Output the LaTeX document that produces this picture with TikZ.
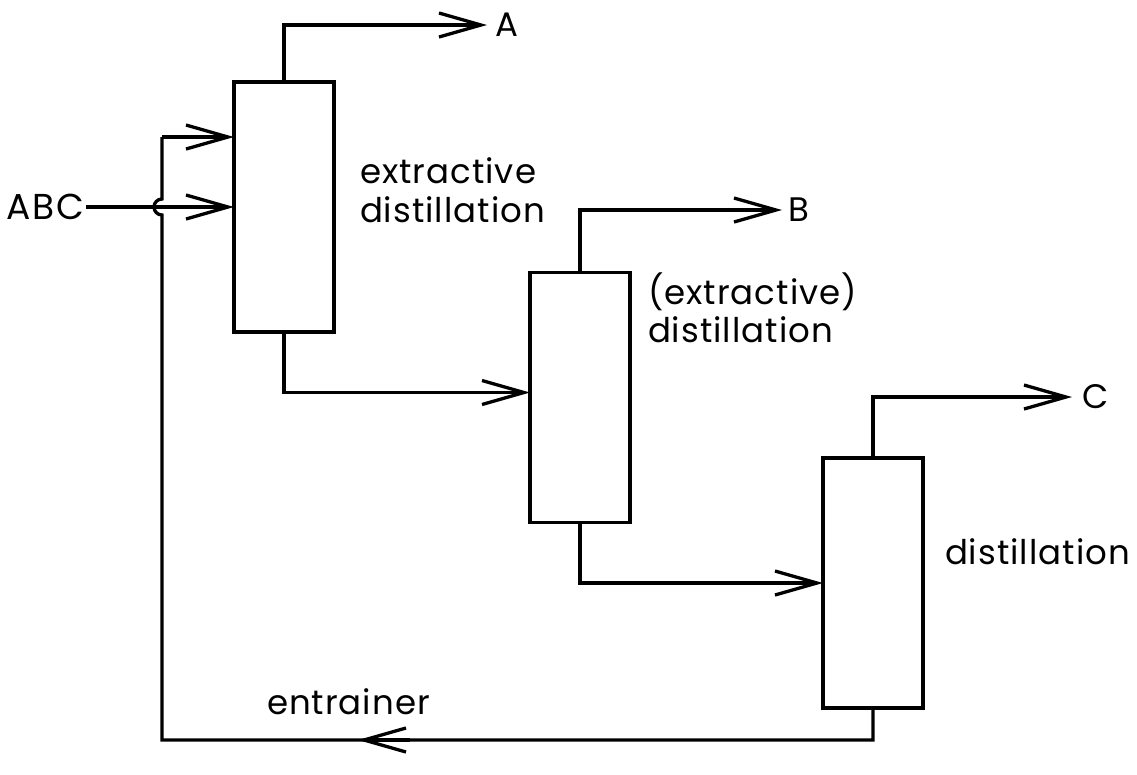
\documentclass[tikz,border=0pt]{standalone}
\usepackage{fontspec}
\setmainfont{Poppins}[LetterSpace=3]
\usetikzlibrary{arrows.meta,calc}
\begin{document}
\begin{tikzpicture}[x=1pt,y=-1pt,
  line width=3.3pt,
  >={Straight Barb[length=42pt,width=24pt,line width=3.3pt]},
  column/.style={draw,minimum width=100pt,minimum height=250pt,inner sep=0pt,outer sep=0pt},
  lbl/.style={font=\fontsize{34}{40}\selectfont,inner sep=0pt,outer sep=0pt},
  stream/.style={font=\fontsize{34}{40}\selectfont,inner sep=0pt,outer sep=0pt}]
\useasboundingbox (0,0) rectangle (1137,774);

% columns
\node[column] (c1) at (284,207) {};
\node[column] (c2) at (580,397.5) {};
\node[column] (c3) at (873,583) {};

% products and feed
\node[stream,anchor=west] (A) at (495,25) {A};
\node[stream,anchor=west] (B) at (788,210) {B};
\node[stream,anchor=west] (C) at (1082,397) {C};
\node[stream,anchor=west,font=\fontsize{36}{40}\selectfont\addfontfeature{LetterSpace=6}] (abc) at (6,207) {ABC};

% column labels
\node[lbl,anchor=base west] (l1a) at (360,183) {extractive};
\node[lbl,anchor=base west] (l1b) at (360,222) {distillation};
\node[lbl,anchor=base west] (l2a) at (648,304) {(extractive)};
\node[lbl,anchor=base west] (l2b) at (648,342) {distillation};
\node[lbl,anchor=base west] (l3) at (945,564) {distillation};
\node[lbl,anchor=base west] (ent) at (267,714) {entrainer};

% overhead products
\coordinate (tA) at ($(A.west)+(-8,0)$);
\coordinate (tB) at ($(B.west)+(-6,0)$);
\coordinate (tC) at ($(C.west)+(-10,0)$);
\draw[->] (c1.north) |- (tA);
\draw[->] (c2.north) |- (tB);
\draw[->] (c3.north) |- (tC);

% feed
\coordinate (f0) at ($(abc.east)+(2,0)$);
\draw[->] (f0) -- (c1.west |- f0);

% bottoms to next column
\coordinate (f2) at ($(c2.west)+(0,-5)$);
\draw[->] (c1.south) |- (f2);
\draw[->] (c2.south) |- (c3.west);

% entrainer recycle with a hop over the feed line
\coordinate (rb) at (162,740);
\coordinate (hop) at (162,207);
\coordinate (e1) at ($(c1.north west)+(0,55)$);
\draw (c3.south) |- (rb) -- ($(hop)+(0,8)$)
  arc[start angle=90,end angle=270,radius=8] -- (rb |- e1);
\draw[->] (rb |- e1) -- (e1);
\coordinate (ar) at (358,740);
\draw[->] (410,740) -- (ar);
\end{tikzpicture}
\end{document}
